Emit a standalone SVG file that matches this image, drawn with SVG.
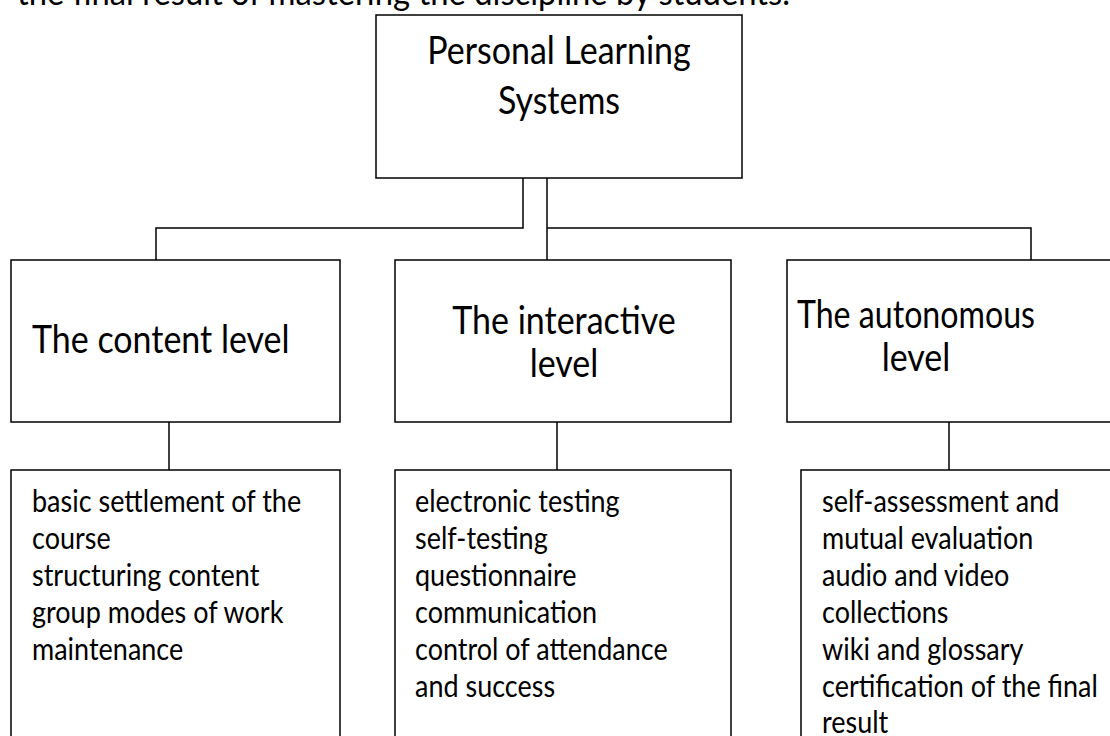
<svg xmlns="http://www.w3.org/2000/svg" width="1110" height="736" viewBox="0 0 1110 736">
<style>
.box{fill:#fff;stroke:#000;stroke-width:1.5}
.conn{fill:none;stroke:#000;stroke-width:1.5}
.big{font-family:Lato,"Liberation Sans",sans-serif;font-size:34px;fill:#000}
.small{font-family:Lato,"Liberation Sans",sans-serif;font-size:27px;fill:#000}
</style>
<rect width="1110" height="736" fill="#fff"/>
<text class="big" x="17" y="5" textLength="773" lengthAdjust="spacingAndGlyphs">the final result of mastering the discipline by students.</text>
<g id="connectors">
<polyline class="conn" points="523,178 523,228 156,228 156,260"/>
<line class="conn" x1="547" y1="178" x2="547" y2="260"/>
<polyline class="conn" points="547,228 1031,228 1031,260"/>
<line class="conn" x1="169" y1="422" x2="169" y2="470"/>
<line class="conn" x1="557" y1="422" x2="557" y2="470"/>
<line class="conn" x1="949" y1="422" x2="949" y2="470"/>
</g>
<g id="root">
<rect class="box" x="376" y="15" width="366" height="163"/>
<text class="big" text-anchor="middle" x="559" y="64" transform="matrix(1,0,0,1.15,0,-9.6)">Personal Learning</text>
<text class="big" text-anchor="middle" x="559" y="114" transform="matrix(1,0,0,1.15,0,-17.1)">Systems</text>
</g>
<g id="content-level">
<rect class="box" x="11" y="260" width="329" height="162"/>
<text class="big" x="32" y="353" transform="matrix(1,0,0,1.15,0,-52.95)">The content level</text>
</g>
<g id="interactive-level">
<rect class="box" x="395" y="260" width="336" height="162"/>
<text class="big" text-anchor="middle" x="564" y="334" transform="matrix(1,0,0,1.15,0,-50.1)">The interactive</text>
<text class="big" text-anchor="middle" x="564" y="377" transform="matrix(1,0,0,1.15,0,-56.55)">level</text>
</g>
<g id="autonomous-level">
<rect class="box" x="787" y="260" width="400" height="162"/>
<text class="big" text-anchor="middle" x="916" y="328" textLength="238" lengthAdjust="spacingAndGlyphs" transform="matrix(1,0,0,1.15,0,-49.2)">The autonomous</text>
<text class="big" text-anchor="middle" x="916" y="371" transform="matrix(1,0,0,1.15,0,-55.65)">level</text>
</g>
<g id="content-items">
<rect class="box" x="11" y="470" width="329" height="330"/>
<text class="small" x="32" y="512" transform="matrix(1,0,0,1.12,0,-61.44)">basic settlement of the</text>
<text class="small" x="32" y="549" transform="matrix(1,0,0,1.12,0,-65.88)">course</text>
<text class="small" x="32" y="586" transform="matrix(1,0,0,1.12,0,-70.32)">structuring content</text>
<text class="small" x="32" y="623" transform="matrix(1,0,0,1.12,0,-74.76)">group modes of work</text>
<text class="small" x="32" y="660" transform="matrix(1,0,0,1.12,0,-79.2)">maintenance</text>
</g>
<g id="interactive-items">
<rect class="box" x="395" y="470" width="336" height="330"/>
<text class="small" x="415" y="512" transform="matrix(1,0,0,1.12,0,-61.44)">electronic testing</text>
<text class="small" x="415" y="549" transform="matrix(1,0,0,1.12,0,-65.88)">self-testing</text>
<text class="small" x="415" y="586" transform="matrix(1,0,0,1.12,0,-70.32)">questionnaire</text>
<text class="small" x="415" y="623" transform="matrix(1,0,0,1.12,0,-74.76)">communication</text>
<text class="small" x="415" y="660" transform="matrix(1,0,0,1.12,0,-79.2)">control of attendance</text>
<text class="small" x="415" y="697" transform="matrix(1,0,0,1.12,0,-83.64)">and success</text>
</g>
<g id="autonomous-items">
<rect class="box" x="801" y="470" width="400" height="330"/>
<text class="small" x="822" y="512" transform="matrix(1,0,0,1.12,0,-61.44)">self-assessment and</text>
<text class="small" x="822" y="549" transform="matrix(1,0,0,1.12,0,-65.88)">mutual evaluation</text>
<text class="small" x="822" y="586" transform="matrix(1,0,0,1.12,0,-70.32)">audio and video</text>
<text class="small" x="822" y="623" transform="matrix(1,0,0,1.12,0,-74.76)">collections</text>
<text class="small" x="822" y="660" transform="matrix(1,0,0,1.12,0,-79.2)">wiki and glossary</text>
<text class="small" x="822" y="697" transform="matrix(1,0,0,1.12,0,-83.64)">certification of the final</text>
<text class="small" x="822" y="733" transform="matrix(1,0,0,1.12,0,-87.96)">result</text>
</g>
</svg>
